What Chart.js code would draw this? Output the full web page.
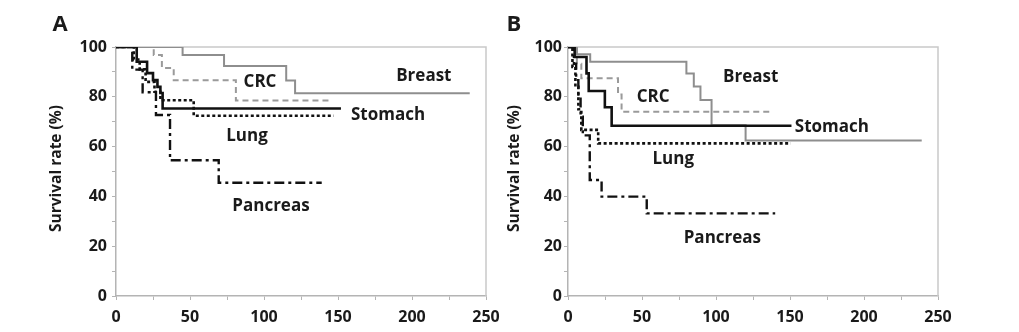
<!DOCTYPE html>
<html>
<head>
<meta charset="utf-8">
<script src="https://cdn.jsdelivr.net/npm/chart.js@4.4.1/dist/chart.umd.min.js"></script>
<style>
  html, body { margin: 0; padding: 0; background: #fff; }
  #wrap { position: relative; width: 1019px; height: 332px; overflow: hidden; }
  canvas { position: absolute; top: 0; }
  #cA { left: 0; width: 500px; height: 332px; }
  #cB { left: 500px; width: 519px; height: 332px; }
</style>
</head>
<body>
<div id="wrap">
  <canvas id="cA" width="500" height="332"></canvas>
  <canvas id="cB" width="519" height="332"></canvas>
</div>
<script>
// Kaplan-Meier curves: event times (x) and survival after each event (%)
// Panel A
const breastA_t   = [0, 45, 73, 115, 121, 239];
const breastA_s   = [100, 96.8, 92.4, 86.5, 81.4, 81.4];
const crcA_t      = [0, 25.5, 31, 39, 81, 145];
const crcA_s      = [100, 96.8, 91.6, 86.6, 78.5, 78.5];
const stomachA_t  = [0, 14, 21, 25, 28, 30, 31.5, 152];
const stomachA_s  = [100, 94.1, 89.5, 86.7, 84, 81.5, 75.3, 75.3];
const lungA_t     = [0, 12, 16, 20, 26, 30, 52.5, 147];
const lungA_s     = [100, 95, 91, 86, 82, 78.6, 72.4, 72.4];
const pancreasA_t = [0, 11, 18, 27, 36.5, 69.4, 139];
const pancreasA_s = [100, 90.9, 81.8, 72.7, 54.5, 45.5, 45.5];

// Panel B
const breastB_t   = [0, 6, 15, 80, 85, 89.5, 97, 120, 239];
const breastB_s   = [100, 97.1, 94.1, 89.4, 84.1, 78.7, 68.6, 62.5, 62.5];
const crcB_t      = [0, 6, 9, 33.8, 36.2, 137];
const crcB_s      = [100, 93.3, 87.4, 80.9, 74, 74];
const stomachB_t  = [0, 4.5, 12.5, 14, 24.9, 29.5, 151];
const stomachB_s  = [100, 96, 89.4, 82.3, 75.8, 68.4, 68.4];
const lungB_t     = [0, 3, 5, 7, 9, 20.4, 150.5];
const lungB_s     = [100, 92, 84, 75, 66.7, 61.3, 61.3];
const pancreasB_t = [0, 4, 5.5, 7, 8.5, 10, 14.7, 22.7, 53.2, 140];
const pancreasB_s = [100, 93.3, 86.7, 80, 72, 64.5, 46.6, 39.9, 33.2, 33.2];

// Axis ticks
const xTicks = [0, 50, 100, 150, 200, 250];
const yTicks = [0, 20, 40, 60, 80, 100];

const FONT = '"Open Sans", "Noto Sans", "DejaVu Sans", sans-serif';

// Line looks per cancer type
const looks = {
  Stomach:  { color: '#111111', width: 2.6, dash: [] },
  Lung:     { color: '#111111', width: 2.6, dash: [3, 2.5] },
  Pancreas: { color: '#111111', width: 2.4, dash: [10, 4, 3, 4] },
  Breast:   { color: '#8e8e8e', width: 2,   dash: [] },
  CRC:      { color: '#9a9a9a', width: 2,   dash: [6, 4] }
};

function curve(name, t, s) {
  const lk = looks[name];
  return {
    label: name,
    data: t.map((v, i) => ({ x: v, y: s[i] })),
    borderColor: lk.color,
    borderWidth: lk.width,
    borderDash: lk.dash,
    stepped: 'before',
    pointRadius: 0,
    fill: false,
    tension: 0
  };
}

// Decorations: plot frame, panel letter, axis title, curve names
const decor = {
  id: 'decor',
  beforeDatasetsDraw(chart, args, o) {
    const { ctx, chartArea: a } = chart;
    ctx.save();
    ctx.strokeStyle = '#c9c9c9';
    ctx.lineWidth = 1.5;
    ctx.beginPath();
    ctx.moveTo(a.left, a.top);
    ctx.lineTo(a.right, a.top);
    ctx.lineTo(a.right, a.bottom);
    ctx.stroke();
    ctx.restore();
  },
  afterDatasetsDraw(chart, args, o) {
    const { ctx, chartArea: a, scales: { x, y } } = chart;
    ctx.save();
    ctx.fillStyle = '#1a1a1a';
    ctx.textAlign = 'center';
    ctx.textBaseline = 'middle';
    ctx.font = 'bold 22px ' + FONT;
    ctx.fillText(o.letter, a.left - o.letterOffset, 25);

    ctx.save();
    ctx.translate(a.left - o.titleOffset, (a.top + a.bottom) / 2 - 3);
    ctx.rotate(-Math.PI / 2);
    ctx.font = 'bold 15.5px ' + FONT;
    ctx.fillText('Survival rate (%)', 0, 0);
    ctx.restore();

    ctx.font = 'bold 17px ' + FONT;
    o.names.forEach(n => {
      ctx.fillText(n.text, x.getPixelForValue(n.x), y.getPixelForValue(n.y));
    });
    ctx.restore();
  }
};

function makeChart(id, sets, plotLeft, rightPad, yPad, decorOpts) {
  return new Chart(document.getElementById(id), {
    type: 'line',
    data: { datasets: sets },
    plugins: [decor],
    options: {
      responsive: false,
      animation: false,
      devicePixelRatio: 1,
      layout: { padding: { left: 0, top: 47, right: rightPad, bottom: 0 } },
      plugins: {
        legend: { display: false },
        tooltip: { enabled: false },
        decor: decorOpts
      },
      scales: {
        x: {
          type: 'linear',
          min: 0, max: 250,
          afterFit: s => { s.height = 36; s.paddingLeft = 0; s.paddingRight = 0; },
          grid: { drawOnChartArea: false, tickLength: 4, color: '#b4b4b4', tickColor: '#b4b4b4' },
          border: { color: '#b4b4b4', width: 1.5 },
          ticks: {
            stepSize: 25, autoSkip: false, maxRotation: 0, padding: 8,
            color: '#1a1a1a',
            font: { family: FONT, size: 16, weight: 'bold' },
            callback: v => xTicks.includes(v) ? String(v) : ''
          }
        },
        y: {
          min: 0, max: 100,
          afterFit: s => { s.width = plotLeft; s.paddingTop = 0; s.paddingBottom = 0; },
          grid: { drawOnChartArea: false, tickLength: 4, color: '#b4b4b4', tickColor: '#b4b4b4' },
          border: { color: '#b4b4b4', width: 1.5 },
          ticks: {
            stepSize: 10, autoSkip: false, padding: yPad,
            color: '#1a1a1a',
            font: { family: FONT, size: 16, weight: 'bold' },
            callback: v => yTicks.includes(v) ? String(v) : ''
          }
        }
      }
    }
  });
}

makeChart('cA', [
  curve('Stomach', stomachA_t, stomachA_s),
  curve('Lung', lungA_t, lungA_s),
  curve('Pancreas', pancreasA_t, pancreasA_s),
  curve('Breast', breastA_t, breastA_s),
  curve('CRC', crcA_t, crcA_s)
], 116, 14, 5, {
  letter: 'A', letterOffset: 56, titleOffset: 59,
  names: [
    { text: 'Breast',   x: 208,   y: 88.4 },
    { text: 'CRC',      x: 97.3,  y: 86 },
    { text: 'Stomach',  x: 183.8, y: 72.7 },
    { text: 'Lung',     x: 88.5,  y: 64.3 },
    { text: 'Pancreas', x: 104.7, y: 36.1 }
  ]
});

makeChart('cB', [
  curve('Stomach', stomachB_t, stomachB_s),
  curve('Lung', lungB_t, lungB_s),
  curve('Pancreas', pancreasB_t, pancreasB_s),
  curve('Breast', breastB_t, breastB_s),
  curve('CRC', crcB_t, crcB_s)
], 68, 81, 2, {
  letter: 'B', letterOffset: 54, titleOffset: 53,
  names: [
    { text: 'Breast',   x: 123.4, y: 88 },
    { text: 'CRC',      x: 57.5,  y: 80 },
    { text: 'Stomach',  x: 178.3, y: 67.9 },
    { text: 'Lung',     x: 71.1,  y: 55 },
    { text: 'Pancreas', x: 104.3, y: 23.3 }
  ]
});
</script>
</body>
</html>
